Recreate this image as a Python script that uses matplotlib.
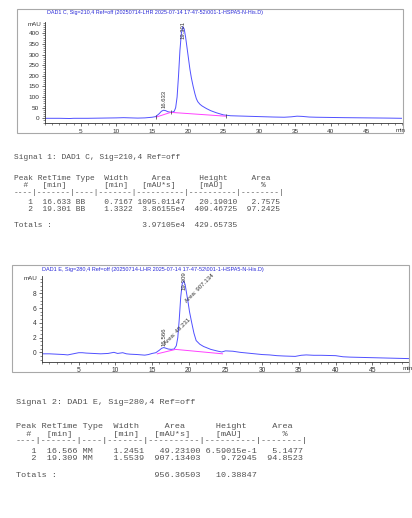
import matplotlib.pyplot as plt
from matplotlib.patches import Rectangle
from matplotlib.ticker import MultipleLocator

W, H = 412, 518

# ---- signal 1: DAD1 C, 210 nm (time in min, signal in mAU) ----
sig1_time = [0, 2, 3.5, 4, 6, 8, 10, 11, 12, 13, 14, 15, 15.5, 16.0, 16.3, 16.6,
             16.9, 17.2, 17.5, 17.8, 18.1, 18.3, 18.5, 18.7, 18.9, 19.1, 19.3, 19.5,
             19.7, 19.9, 20.1, 20.3, 20.5, 20.75, 21.0, 21.2, 21.4, 21.7, 22.0, 22.6,
             23.2, 24, 25, 26, 28, 30, 32, 33.5, 34.5, 35.3, 36, 37, 38, 40, 42, 45, 48, 50]
sig1_mau = [0, 0, -1, 0, 0, 1, 2, 3, 2, 1, 2, 5, 8, 22, 33, 38,
            36, 31, 29, 29, 33, 50, 100, 200, 320, 400, 431, 420,
            380, 330, 280, 230, 190, 150, 115, 92, 78, 66, 58, 46,
            36, 26, 16, 12, 10, 8, 6, 5, 7, 10, 9, 6, 5, 4, 3, 2, 1, 0]
sig1_base_time = [15.6, 17.6, 25.3]
sig1_base_mau = [6, 28, 10]
sig1_peak_rt = [16.633, 19.301]
sig1_label_y = [50, 372]

# ---- signal 2: DAD1 E, 280 nm ----
sig2_time = [0, 1, 2, 3, 3.5, 4, 5, 5.5, 6, 7, 8, 9, 9.8, 10.3, 11, 11.5, 12, 13, 14,
             14.5, 15, 15.5, 16.0, 16.3, 16.6, 16.9, 17.2, 17.6, 18.0, 18.3, 18.5,
             18.7, 18.9, 19.1, 19.3, 19.5, 19.7, 19.9, 20.1, 20.4, 20.7, 21.0, 21.5,
             22.0, 22.5, 23, 24, 24.5, 25, 26, 27, 28, 29, 30, 31, 32, 33, 34.5,
             35.3, 36, 37, 38, 40, 41, 42, 44, 46, 48, 50]
sig2_mau = [-0.2, -0.2, -0.25, -0.3, -0.35, -0.25, -0.05, -0.05, -0.1, -0.15, -0.2,
            -0.15, 0.0, -0.15, -0.05, -0.2, -0.25, -0.3, -0.38, -0.3, -0.15, -0.05,
            0.3, 0.55, 0.65, 0.55, 0.45, 0.4, 0.45, 0.9, 2.0, 4.5, 7.5, 9.3, 9.7,
            9.2, 8.0, 6.8, 5.5, 4.0, 2.6, 1.6, 1.1, 0.8, 0.6, 0.4, 0.15, 0.05, 0.2,
            0.15, 0.0, -0.1, -0.2, -0.3, -0.35, -0.45, -0.5, -0.55, -0.4, -0.35,
            -0.4, -0.4, -0.45, -0.6, -0.65, -0.7, -0.75, -0.8, -0.85]
sig2_base_time = [15.7, 18.2, 24.6]
sig2_base_mau = [-0.2, 0.4, -0.2]
sig2_peak_rt = [16.566, 19.309]
sig2_label_y = [0.8, 8.4]
sig2_area_text = ['Area: 49.231', 'Area: 907.134']
sig2_area_x = [17.0, 19.8]
sig2_area_y = [0.85, 6.6]

# ---- integration tables ----
t1_peak = [1, 2]
t1_rt = ['16.633', '19.301']
t1_type = ['BB', 'BB']
t1_width = ['0.7167', '1.3322']
t1_area = ['1095.01147', '3.86155e4']
t1_height = ['20.19010', '409.46725']
t1_pct = ['2.7575', '97.2425']
t1_totals = ['3.97105e4', '429.65735']

t2_peak = [1, 2]
t2_rt = ['16.566', '19.309']
t2_type = ['MM', 'MM']
t2_width = ['1.2451', '1.5539']
t2_area = ['49.23100', '907.13403']
t2_height = ['6.59015e-1', '9.72945']
t2_pct = ['5.1477', '94.8523']
t2_totals = ['956.36503', '10.38847']

TRACE = '#5050ff'
BASE = '#ff40ff'
TITLE = '#2a2ad8'
INK = '#333333'
NARROW = ['Liberation Sans Narrow', 'Liberation Sans', 'DejaVu Sans']
MONO = ['Liberation Mono', 'DejaVu Sans Mono']

fig = plt.figure(figsize=(W / 100, H / 100), dpi=100)


def fx(px):
    return px / W


def fy(py):
    return 1 - py / H


def frame(x0, y0, x1, y1):
    fig.patches.append(Rectangle((fx(x0), fy(y1)), fx(x1) - fx(x0), fy(y0) - fy(y1),
                                 transform=fig.transFigure, fill=False,
                                 edgecolor='#a8a8a8', lw=0.8))


def make_axes(box, ylim, ymaj, ymin, ytop, fs):
    x0, y0, x1, y1 = box
    ax = fig.add_axes([fx(x0), fy(y1), fx(x1) - fx(x0), fy(y0) - fy(y1)])
    ax.patch.set_alpha(0)
    ax.set_xlim(0, 50)
    ax.set_ylim(*ylim)
    for s in ['top', 'right']:
        ax.spines[s].set_visible(False)
    for s in ['left', 'bottom']:
        ax.spines[s].set_linewidth(0.6)
        ax.spines[s].set_color(INK)
    ax.xaxis.set_minor_locator(MultipleLocator(1))
    ax.yaxis.set_minor_locator(MultipleLocator(ymin))
    ax.tick_params(which='major', length=2.5, width=0.5, color=INK,
                   labelsize=fs, pad=1.5, labelcolor=INK)
    ax.tick_params(which='minor', length=1.3, width=0.4, color=INK)
    xt = list(range(5, 50, 5))
    ax.set_xticks(xt)
    ax.set_xticklabels([str(t) for t in xt], family=NARROW)
    yt = []
    v = 0
    while v <= ytop:
        yt.append(v)
        v += ymaj
    ax.set_yticks(yt)
    ax.set_yticklabels([f'{t:g}' for t in yt], family=NARROW)
    return ax


# ---------------- chart 1 ----------------
frame(17, 9, 403, 133)
fig.text(fx(47), fy(12.5), 'DAD1 C, Sig=210,4 Ref=off (20250714-LHR 2025-07-14 17-47-52\\001-1-HSPA5-N-His.D)',
         family=NARROW, fontsize=3.85, color=TITLE, va='center', ha='left')
ax1 = make_axes((45, 22, 402, 123.3), (-23.5, 453), 50, 10, 400, 4.6)
ax1.plot(sig1_time, sig1_mau, color=TRACE, lw=0.7)
ax1.plot(sig1_base_time, sig1_base_mau, color=BASE, lw=0.7)
ax1.plot(sig1_base_time, sig1_base_mau, ls='none', marker='|', ms=3, mew=0.5, color=INK)
for rt, ly in zip(sig1_peak_rt, sig1_label_y):
    ax1.text(rt, ly, f'{rt:.3f}', rotation=90, ha='center', va='bottom', fontsize=4.2,
             family=NARROW, color=INK, clip_on=False)
fig.text(fx(41.5), fy(25), 'mAU', family=NARROW, fontsize=4.5, color=INK, ha='right', va='center')
fig.text(fx(396), fy(130.5), 'min', family=NARROW, fontsize=4.4, color=INK, ha='left', va='center')

# ---------------- chart 2 ----------------
frame(12, 265, 409, 372)
fig.text(fx(42.5), fy(269), 'DAD1 E, Sig=280,4 Ref=off (20250714-LHR 2025-07-14 17-47-52\\001-1-HSPA5-N-His.D)',
         family=NARROW, fontsize=4.0, color=TITLE, va='center', ha='left')
ax2 = make_axes((42, 275.7, 409, 361.7), (-1.27, 10.4), 2, 0.5, 8, 4.8)
ax2.plot(sig2_time, sig2_mau, color=TRACE, lw=0.7)
ax2.plot(sig2_base_time, sig2_base_mau, color=BASE, lw=0.7)
for rt, ly in zip(sig2_peak_rt, sig2_label_y):
    ax2.text(rt, ly, f'{rt:.3f}', rotation=90, ha='center', va='bottom', fontsize=4.4,
             family=NARROW, color=INK, clip_on=False)
for txt, ax_, ay in zip(sig2_area_text, sig2_area_x, sig2_area_y):
    ax2.text(ax_, ay, txt, rotation=45, rotation_mode='anchor', ha='left', va='bottom',
             fontsize=4.4, family=NARROW, color=INK, clip_on=False)
fig.text(fx(37), fy(278), 'mAU', family=NARROW, fontsize=4.5, color=INK, ha='right', va='center')
fig.text(fx(403), fy(369), 'min', family=NARROW, fontsize=4.6, color=INK, ha='left', va='center')


# ---------------- tables ----------------
def table_lines(sig, peaks, rts, types, widths, areas, heights, pcts, totals):
    lines = [sig,
             'Peak RetTime Type  Width     Area      Height     Area  ',
             '  #   [min]        [min]   [mAU*s]     [mAU]        %',
             '----|-------|----|-------|----------|----------|--------|']
    for p, r, t, w, a, h, c in zip(peaks, rts, types, widths, areas, heights, pcts):
        lines.append(f'{p:>4} {r:>7} {t:<4} {w:>7} {a:>10} {h:>10} {c:>8}')
    lines.append('Totals :' + ' ' * 18 + f'{totals[0]:>10} {totals[1]:>10}')
    return lines


def draw_table(lines, x0, ys, fs):
    for ln, y in zip(lines, ys):
        fig.text(fx(x0), fy(y), ln, family=MONO, fontsize=fs, color='#505050',
                 ha='left', va='baseline')


tab1 = table_lines('Signal 1: DAD1 C, Sig=210,4 Ref=off', t1_peak, t1_rt, t1_type,
                   t1_width, t1_area, t1_height, t1_pct, t1_totals)
draw_table(tab1, 14, [158.6, 179.8, 186.8, 193.5, 204.0, 211.2, 226.9], 5.7)

tab2 = table_lines('Signal 2: DAD1 E, Sig=280,4 Ref=off', t2_peak, t2_rt, t2_type,
                   t2_width, t2_area, t2_height, t2_pct, t2_totals)
draw_table(tab2, 16, [403.8, 428.0, 435.6, 442.0, 453.2, 460.4, 477.1], 6.1)

fig.savefig('out.png', dpi=100)
